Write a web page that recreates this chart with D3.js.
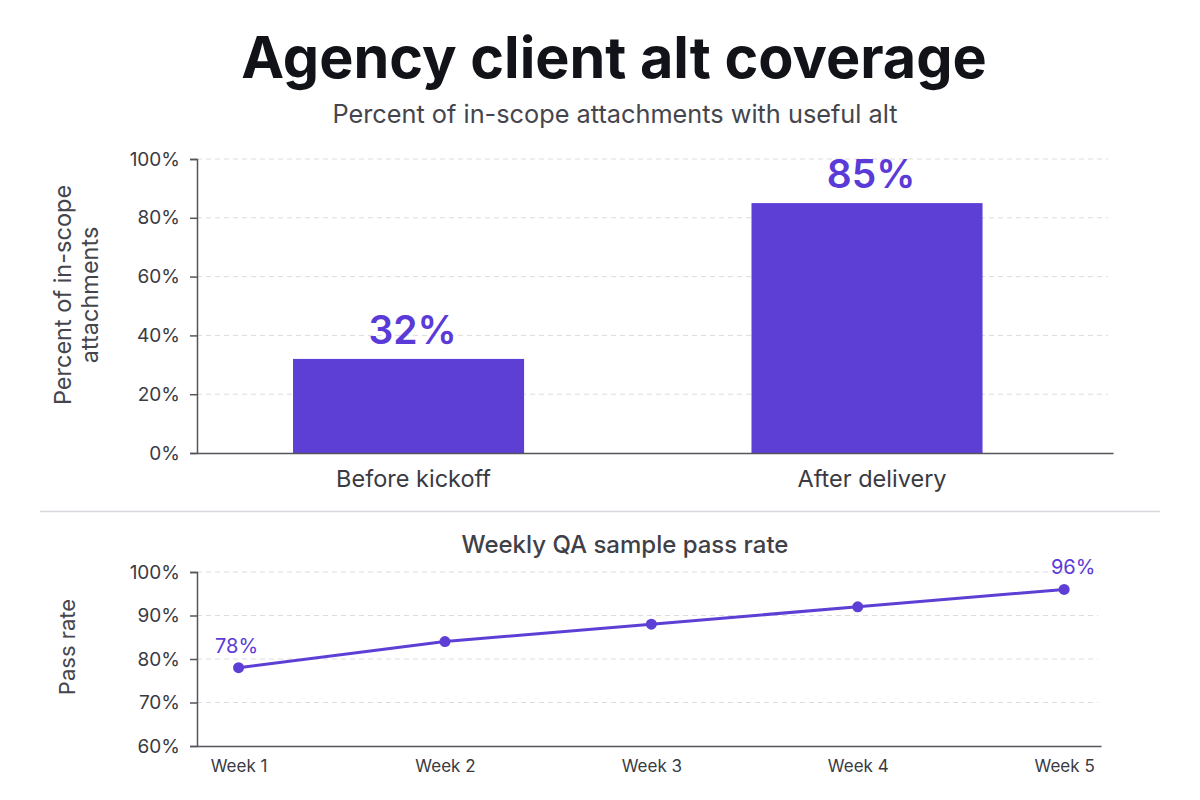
<!DOCTYPE html>
<html>
<head>
<meta charset="utf-8">
<script src="https://cdn.jsdelivr.net/npm/d3@7"></script>
<style>
  html, body { margin: 0; padding: 0; background: #ffffff; }
  svg { display: block; font-family: Inter, "Noto Sans", sans-serif; }
</style>
</head>
<body>
<svg id="chart" width="1200" height="800"></svg>
<script>
// ---- Data ----
const barCategories = ["Before kickoff", "After delivery"];
const barValues = [32, 85];
const barTicks = [0, 20, 40, 60, 80, 100];

const weeks = ["Week 1", "Week 2", "Week 3", "Week 4", "Week 5"];
const passRates = [78, 84, 88, 92, 96];
const lineTicks = [60, 70, 80, 90, 100];
const labeledWeeks = ["Week 1", "Week 5"];

const titleText = "Agency client alt coverage";
const subtitleText = "Percent of in-scope attachments with useful alt";
const lineTitleText = "Weekly QA sample pass rate";

// ---- Styles ----
const purple = "#5e3fd6";
const labelPurple = "#5b3bd8";
const axisColor = "#55555c";
const tickText = "#3a3a42";
const gridColor = "#dcdcdc";

const svg = d3.select("#chart");

// Titles
svg.append("text").attr("x", 614).attr("y", 78).attr("text-anchor", "middle")
  .attr("font-size", 57.5).attr("font-weight", 700).attr("fill", "#111318").text(titleText);
svg.append("text").attr("x", 615).attr("y", 123).attr("text-anchor", "middle")
  .attr("font-size", 25.3).attr("fill", "#45464d").text(subtitleText);

// ---- Bar chart ----
const topBox = { x0: 197, x1: 1113, y0: 159, y1: 453 };
const xb = d3.scaleBand().domain(barCategories).range([topBox.x0, topBox.x1])
  .paddingInner(0.496).paddingOuter(0.247).align(0.424);
const yb = d3.scaleLinear().domain([0, 100]).range([topBox.y1, topBox.y0]);

const gTop = svg.append("g");
// grid
gTop.append("g").selectAll("line").data(barTicks.filter(d => d > 0)).join("line")
  .attr("x1", topBox.x0).attr("x2", 1108)
  .attr("y1", d => yb(d)).attr("y2", d => yb(d))
  .attr("stroke", gridColor).attr("stroke-width", 1).attr("stroke-dasharray", "5,4");

// bars
gTop.append("g").selectAll("rect").data(barValues).join("rect")
  .attr("x", (d, i) => xb(barCategories[i]))
  .attr("width", xb.bandwidth())
  .attr("y", d => yb(d))
  .attr("height", d => yb(0) - yb(d))
  .attr("fill", purple);

// value labels
gTop.append("g").selectAll("text").data(barValues).join("text")
  .attr("x", (d, i) => xb(barCategories[i]) + xb.bandwidth() / 2 + 4)
  .attr("y", d => yb(d) - 15)
  .attr("text-anchor", "middle").attr("font-size", 39).attr("font-weight", 600)
  .attr("fill", labelPurple).text(d => d + "%");

// y axis
const yAxisB = gTop.append("g").attr("transform", `translate(${topBox.x0},0)`)
  .call(d3.axisLeft(yb).tickValues(barTicks).tickFormat(d => d + "%").tickSize(7).tickPadding(10));
yAxisB.select(".domain").attr("stroke", axisColor).attr("stroke-width", 1.5);
yAxisB.selectAll(".tick line").attr("stroke", axisColor).attr("stroke-width", 1.5);
yAxisB.selectAll(".tick text").attr("font-size", 19).attr("fill", tickText).attr("font-family", "Inter");

// x axis
const xAxisB = gTop.append("g").attr("transform", `translate(0,${topBox.y1})`)
  .call(d3.axisBottom(xb).tickSize(0).tickPadding(17));
xAxisB.select(".domain").attr("stroke", axisColor).attr("stroke-width", 1.5);
xAxisB.selectAll(".tick text").attr("font-size", 23.5).attr("fill", tickText).attr("font-family", "Inter")
  .attr("dx", 5);

// y label
const ylab = gTop.append("text").attr("transform", "translate(71,295) rotate(-90)")
  .attr("text-anchor", "middle").attr("font-size", 23.5).attr("fill", "#45464d");
ylab.append("tspan").attr("x", 0).attr("dy", "0").text("Percent of in-scope");
ylab.append("tspan").attr("x", 0).attr("dy", "27").text("attachments");

// separator
svg.append("line").attr("x1", 40).attr("x2", 1160).attr("y1", 511.5).attr("y2", 511.5)
  .attr("stroke", "#d8d8de").attr("stroke-width", 1.5);

// ---- Line chart ----
const botBox = { x0: 197, x1: 1101, y0: 572, y1: 746 };
svg.append("text").attr("x", 625).attr("y", 553).attr("text-anchor", "middle")
  .attr("font-size", 24).attr("font-weight", 500).attr("fill", "#3f4048").text(lineTitleText);

const xl = d3.scalePoint().domain(weeks).range([botBox.x0, botBox.x1]).padding(0.19).align(0.53);
const yl = d3.scaleLinear().domain([60, 100]).range([botBox.y1, botBox.y0]);

const gBot = svg.append("g");
gBot.append("g").selectAll("line").data(lineTicks.filter(d => d > 60)).join("line")
  .attr("x1", botBox.x0).attr("x2", 1098)
  .attr("y1", d => yl(d)).attr("y2", d => yl(d))
  .attr("stroke", gridColor).attr("stroke-width", 1).attr("stroke-dasharray", "5,4");

const yAxisL = gBot.append("g").attr("transform", `translate(${botBox.x0},0)`)
  .call(d3.axisLeft(yl).tickValues(lineTicks).tickFormat(d => d + "%").tickSize(7).tickPadding(10));
yAxisL.select(".domain").attr("stroke", axisColor).attr("stroke-width", 1.5);
yAxisL.selectAll(".tick line").attr("stroke", axisColor).attr("stroke-width", 1.5);
yAxisL.selectAll(".tick text").attr("font-size", 19).attr("fill", tickText).attr("font-family", "Inter");

const xAxisL = gBot.append("g").attr("transform", `translate(0,${botBox.y1})`)
  .call(d3.axisBottom(xl).tickSize(0).tickPadding(14));
xAxisL.select(".domain").attr("stroke", axisColor).attr("stroke-width", 1.5);
xAxisL.selectAll(".tick text").attr("font-size", 17).attr("fill", tickText).attr("font-family", "Inter");

gBot.append("text").attr("transform", "translate(75,647) rotate(-90)")
  .attr("text-anchor", "middle").attr("font-size", 22).attr("fill", "#45464d").text("Pass rate");

const lineGen = d3.line().x((d, i) => xl(weeks[i])).y(d => yl(d));
gBot.append("path").datum(passRates).attr("d", lineGen)
  .attr("fill", "none").attr("stroke", purple).attr("stroke-width", 3);
gBot.append("g").selectAll("circle").data(passRates).join("circle")
  .attr("cx", (d, i) => xl(weeks[i])).attr("cy", d => yl(d)).attr("r", 5.5)
  .attr("fill", purple);

gBot.append("g").selectAll("text").data(passRates.map((v, i) => ({ v, w: weeks[i] })).filter(d => labeledWeeks.includes(d.w)))
  .join("text")
  .attr("x", d => xl(d.w) + (d.w === weeks[weeks.length - 1] ? 9 : -2))
  .attr("y", d => yl(d.v) - 15)
  .attr("text-anchor", "middle").attr("font-size", 20).attr("fill", labelPurple)
  .text(d => d.v + "%");
</script>
</body>
</html>
